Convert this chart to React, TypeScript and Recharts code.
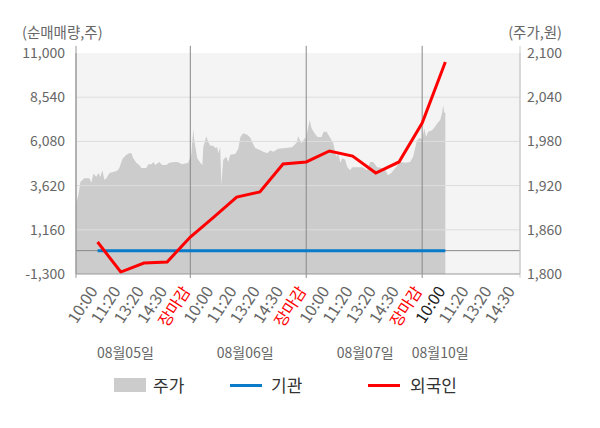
import React from 'react'
import { ComposedChart, Area, Line, XAxis, YAxis, CartesianGrid, ReferenceLine, Legend } from 'recharts'

const FONT = '"Noto Sans CJK KR", "Noto Sans", sans-serif'

// x positions are time slots: 10:00 of the first day = 1, each label one slot
const tickLabels = [
  '10:00', '11:20', '13:20', '14:30', '장마감',
  '10:00', '11:20', '13:20', '14:30', '장마감',
  '10:00', '11:20', '13:20', '14:30', '장마감',
  '10:00', '11:20', '13:20', '14:30',
]
const tickSlots = [1, 2, 3, 4, 5, 6, 7, 8, 9, 10, 11, 12, 13, 14, 15, 16, 17, 18, 19]
const closeSlots = [5, 10, 15]
const xDomain: [number, number] = [0.07, 19.22]

const dateLabels = ['08월05일', '08월06일', '08월07일', '08월10일']
const dateSlots = [2.2, 7.37, 12.54, 15.78]

const leftTicks = [-1300, 1160, 3620, 6080, 8540, 11000]
const rightTicks = [1800, 1860, 1920, 1980, 2040, 2100]

// 주가 (intraday)
const priceSlots = [
  0.07, 0.17, 0.26, 0.43, 0.65, 0.73, 0.82, 0.95, 1.03, 1.12,
  1.21, 1.29, 1.38, 1.51, 1.64, 1.85, 1.94, 2.07, 2.24, 2.37,
  2.46, 2.54, 2.67, 2.8, 2.89, 3.1, 3.19, 3.32, 3.41, 3.49,
  3.66, 3.79, 3.97, 4.09, 4.31, 4.44, 4.66, 4.91, 5.04, 5.13,
  5.17, 5.3, 5.43, 5.52, 5.56, 5.69, 5.78, 5.86, 5.99, 6.08,
  6.16, 6.21, 6.29, 6.34, 6.42, 6.55, 6.64, 6.72, 6.94, 7.07,
  7.16, 7.28, 7.46, 7.59, 7.67, 7.8, 8.02, 8.15, 8.32, 8.45,
  8.58, 8.79, 9.09, 9.39, 9.6, 9.65, 9.78, 9.84, 9.93, 9.97,
  10.06, 10.15, 10.23, 10.36, 10.49, 10.66, 10.75, 10.88, 11.03, 11.16,
  11.29, 11.38, 11.47, 11.55, 11.68, 11.77, 11.9, 11.98, 12.11, 12.41,
  12.63, 12.76, 12.89, 13.06, 13.28, 13.41, 13.53, 13.7, 13.84, 14.05,
  14.27, 14.48, 14.61, 14.78, 14.91, 15.0, 15.09, 15.17, 15.26, 15.43,
  15.53, 15.66, 15.78, 15.86, 15.91, 15.95, 16.0,
]
const prices = [
  1896, 1907, 1925, 1930, 1930, 1924, 1936, 1932, 1937, 1932,
  1941, 1928, 1930, 1937, 1938, 1940, 1944, 1956, 1962, 1964,
  1964, 1957, 1951, 1948, 1944, 1944, 1949, 1949, 1952, 1948,
  1952, 1948, 1948, 1951, 1952, 1952, 1949, 1951, 1962, 1997,
  1982, 1957, 1951, 1948, 1972, 1987, 1979, 1974, 1974, 1971,
  1972, 1964, 1972, 1921, 1955, 1959, 1952, 1962, 1963, 1970,
  1986, 1991, 1989, 1985, 1979, 1971, 1968, 1966, 1964, 1968,
  1966, 1970, 1971, 1972, 1979, 1987, 1978, 1979, 1985, 1982,
  1995, 2009, 1998, 1991, 1986, 1986, 1993, 1993, 1985, 1978,
  1959, 1964, 1951, 1957, 1955, 1945, 1941, 1945, 1945, 1945,
  1941, 1952, 1952, 1945, 1944, 1941, 1934, 1938, 1944, 1952,
  1951, 1952, 1959, 1982, 1985, 1982, 1998, 1986, 1993, 1995,
  1999, 2005, 2009, 2019, 2029, 2019, 2019,
]

// 순매매량 (cumulative)
const flowSlots = [1, 2, 3, 4, 5, 6, 7, 8, 9, 10, 11, 12, 13, 14, 15, 16]
const institution = [0, 0, 0, 0, 0, 0, 0, 0, 0, 0, 0, 0, 0, 0, 0, 0]
const foreign = [480, -1190, -690, -630, 760, 1850, 2985, 3265, 4820, 4935, 5545, 5265, 4320, 4935, 7100, 10500]

const latestSlot = flowSlots[flowSlots.length - 1]

const priceData = priceSlots.map((t, i) => ({ t, price: prices[i] }))
const flowData = flowSlots.map((t, i) => ({ t, institution: institution[i], foreign: foreign[i] }))
const dateData = dateSlots.map((t, i) => ({ t, label: dateLabels[i] }))

const fmt = (v: number) => v.toLocaleString('en-US')

const TimeTick = (props: any) => {
  const { x, y, payload } = props
  const i = tickSlots.indexOf(payload.value)
  const label = tickLabels[i]
  const color = closeSlots.includes(payload.value) ? '#ff0000' : payload.value === latestSlot ? '#222222' : '#666666'
  return (
    <g transform={`translate(${x - 4},${y + 14}) rotate(-57)`}>
      <text x={0} y={0} dy="0.35em" textAnchor="end" fill={color} fontSize={16} fontFamily={FONT}>
        {label}
      </text>
    </g>
  )
}

const renderLegend = () => (
  <div style={{ position: 'relative', width: 600, height: 30, fontFamily: FONT, fontSize: 17, color: '#333' }}>
    <span style={{ position: 'absolute', left: 114, top: 8, width: 32, height: 14, background: '#cccccc' }} />
    <span style={{ position: 'absolute', left: 153, top: 0, lineHeight: '30px' }}>주가</span>
    <span style={{ position: 'absolute', left: 230, top: 14, width: 32, height: 3, background: '#0a7bc8' }} />
    <span style={{ position: 'absolute', left: 271, top: 0, lineHeight: '30px' }}>기관</span>
    <span style={{ position: 'absolute', left: 368, top: 14, width: 32, height: 3, background: '#ff0000' }} />
    <span style={{ position: 'absolute', left: 410, top: 0, lineHeight: '30px' }}>외국인</span>
  </div>
)

const App: React.FC = () => {
  return (
    <div style={{ position: 'absolute', left: 0, top: 0, width: 600, height: 428, background: '#fff' }}>
      <ComposedChart width={600} height={428} margin={{ top: 53, right: 20, bottom: 66, left: 16 }}>
        <CartesianGrid yAxisId="left" fill="#f4f4f4" horizontal={false} vertical={false} />
        <XAxis
          dataKey="t"
          type="number"
          domain={xDomain}
          allowDataOverflow
          ticks={tickSlots}
          interval={0}
          height={68}
          tickSize={0}
          tickMargin={0}
          tick={<TimeTick />}
          axisLine={{ stroke: '#999' }}
          tickLine={false}
        />
        <XAxis
          xAxisId="date"
          dataKey="t"
          type="number"
          domain={xDomain}
          allowDataOverflow
          ticks={dateSlots}
          interval={0}
          height={20}
          tickSize={0}
          tickMargin={6}
          tickFormatter={(v: number) => dateLabels[dateSlots.indexOf(v)]}
          tick={{ fill: '#666', fontSize: 14, fontFamily: FONT }}
          axisLine={false}
          tickLine={false}
        />
        <YAxis
          yAxisId="left"
          domain={[-1300, 11000]}
          allowDataOverflow
          ticks={leftTicks}
          interval={0}
          width={60}
          tickSize={0}
          tickMargin={11}
          tickFormatter={fmt}
          tick={{ fill: '#666', fontSize: 14, fontFamily: FONT }}
          axisLine={{ stroke: '#999' }}
          tickLine={false}
          label={{
            content: (p: any) => (
              <text x={p.viewBox.x + 6} y={p.viewBox.y - 20} dy="0.35em" fill="#666" fontSize={14.5} fontFamily={FONT}>
                (순매매량,주)
              </text>
            ),
          }}
        />
        <YAxis
          yAxisId="right"
          orientation="right"
          domain={[1800, 2100]}
          allowDataOverflow
          ticks={rightTicks}
          interval={0}
          width={60}
          tickSize={0}
          tickMargin={7}
          tickFormatter={fmt}
          tick={{ fill: '#666', fontSize: 14, fontFamily: FONT }}
          axisLine={{ stroke: '#ccc' }}
          tickLine={false}
          label={{
            content: (p: any) => (
              <text x={p.viewBox.x + 42} y={p.viewBox.y - 20} dy="0.35em" textAnchor="end" fill="#666" fontSize={14.5} fontFamily={FONT}>
                (주가,원)
              </text>
            ),
          }}
        />
        <Area
          yAxisId="right"
          data={priceData}
          dataKey="price"
          name="주가"
          type="linear"
          fill="#cccccc"
          fillOpacity={1}
          stroke="none"
          isAnimationActive={false}
        />
        {leftTicks.slice(1, -1).map((v) => (
          <ReferenceLine key={v} yAxisId="left" y={v} stroke="#dddddd" strokeWidth={1} />
        ))}
        {closeSlots.map((s) => (
          <ReferenceLine
            key={s}
            yAxisId="left"
            segment={[{ x: s, y: -1520 }, { x: s, y: 11400 }]}
            ifOverflow="visible"
            stroke="#888888"
            strokeWidth={1}
          />
        ))}
        <ReferenceLine
          yAxisId="left"
          segment={[{ x: xDomain[0], y: -1520 }, { x: xDomain[0], y: 11400 }]}
          ifOverflow="visible"
          stroke="#999999"
          strokeWidth={1}
        />
        <ReferenceLine
          yAxisId="left"
          segment={[{ x: xDomain[1], y: -1520 }, { x: xDomain[1], y: 11400 }]}
          ifOverflow="visible"
          stroke="#cccccc"
          strokeWidth={1}
        />
        <ReferenceLine yAxisId="left" y={0} stroke="#888888" strokeWidth={1} />
        <Line
          xAxisId="date"
          yAxisId="left"
          data={dateData}
          dataKey="none"
          stroke="none"
          dot={false}
          legendType="none"
          isAnimationActive={false}
        />
        <Line
          yAxisId="left"
          data={flowData}
          dataKey="institution"
          name="기관"
          type="linear"
          stroke="#0a7bc8"
          strokeWidth={3}
          dot={false}
          isAnimationActive={false}
        />
        <Line
          yAxisId="left"
          data={flowData}
          dataKey="foreign"
          name="외국인"
          type="linear"
          stroke="#ff0000"
          strokeWidth={3}
          dot={false}
          isAnimationActive={false}
        />
        <Legend
          layout="horizontal"
          verticalAlign="middle"
          align="center"
          content={renderLegend}
          wrapperStyle={{ left: 0, top: 370, width: 600, height: 30 }}
        />
      </ComposedChart>
    </div>
  )
}

export default App
